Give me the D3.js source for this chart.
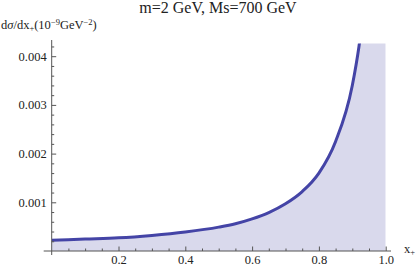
<!DOCTYPE html>
<html>
<head>
<meta charset="utf-8">
<script src="https://cdn.jsdelivr.net/npm/d3@7"></script>
<style>
  html, body { margin: 0; padding: 0; background: #fff; }
  svg { display: block; }
  svg text { font-family: "Liberation Serif", "DejaVu Serif", serif !important; fill: #222; }
</style>
</head>
<body>
<svg width="416" height="266"></svg>
<script>
// values
const xPlus   = [0, 0.1, 0.2, 0.3, 0.4, 0.5, 0.55, 0.6, 0.65, 0.7, 0.75, 0.8, 0.85, 0.9, 0.92, 0.95, 1.0];
const dSigma  = [0.00022, 0.000245, 0.00027, 0.00032, 0.00039, 0.00049, 0.00056, 0.00066, 0.00079, 0.00097, 0.00122, 0.0016, 0.00225, 0.0034, 0.0042, 0.006, 0.012];
const xTicks  = [0.2, 0.4, 0.6, 0.8, 1.0];
const yTicks  = [0.001, 0.002, 0.003, 0.004];
const yTop    = 0.00426;   // plot range cut-off

const svg = d3.select("svg");

const x = d3.scaleLinear().domain([0, 1]).range([51.7, 385.7]);
const y = d3.scaleLinear().domain([0, 0.001]).range([251, 202.3]);

const pts = xPlus.map((v, i) => [v, dSigma[i]]);

svg.append("clipPath").attr("id", "plotclip")
  .append("rect")
    .attr("x", x(0)).attr("y", y(yTop))
    .attr("width", x(1) - x(0)).attr("height", y(0) - y(yTop));

const g = svg.append("g").attr("clip-path", "url(#plotclip)");

// filling to the axis
g.append("path")
    .datum(pts)
    .attr("fill", "#d9d9ec")
    .attr("d", d3.area().x(d => x(d[0])).y0(y(0)).y1(d => y(d[1])).curve(d3.curveMonotoneX));

// curve
g.append("path")
    .datum(pts)
    .attr("fill", "none")
    .attr("stroke", "#4444a6")
    .attr("stroke-width", 3)
    .attr("d", d3.line().x(d => x(d[0])).y(d => y(d[1])).curve(d3.curveMonotoneX));

const axisColor = "#555";

// x axis
const xMinor = d3.range(0.05, 1.001, 0.05).filter(v => Math.abs(v * 5 - Math.round(v * 5)) > 1e-6);
svg.append("g")
    .attr("transform", `translate(0,${y(0)})`)
    .call(d3.axisBottom(x).tickValues(xMinor).tickSize(-2.5).tickFormat(""))
    .call(a => a.select(".domain").remove());
svg.append("g")
    .attr("transform", `translate(0,${y(0)})`)
    .call(d3.axisBottom(x).tickValues(xTicks).tickSize(-4.5).tickPadding(4).tickFormat(d3.format(".1f")))
    .call(a => a.select(".domain").remove())
    .call(a => a.attr("font-family", null).selectAll("text").attr("font-size", 12.5));

// y axis
const yMinor = d3.range(0.0002, 0.00431, 0.0002).filter(v => Math.abs(v * 1000 - Math.round(v * 1000)) > 1e-6);
svg.append("g")
    .attr("transform", `translate(${x(0)},0)`)
    .call(d3.axisLeft(y).tickValues(yMinor).tickSize(-2.5).tickFormat(""))
    .call(a => a.select(".domain").remove());
svg.append("g")
    .attr("transform", `translate(${x(0)},0)`)
    .call(d3.axisLeft(y).tickValues(yTicks).tickSize(-4.5).tickPadding(5).tickFormat(d3.format(".3f")))
    .call(a => a.select(".domain").remove())
    .call(a => a.attr("font-family", null).selectAll("text").attr("font-size", 12.5));

svg.selectAll(".tick line").attr("stroke", axisColor);

// axis lines with small overhang
svg.append("line")
    .attr("x1", x(0) - 8).attr("x2", 391)
    .attr("y1", y(0)).attr("y2", y(0))
    .attr("stroke", axisColor);
svg.append("line")
    .attr("x1", x(0)).attr("x2", x(0))
    .attr("y1", y(0) + 4).attr("y2", 40)
    .attr("stroke", axisColor);

// title
svg.append("text")
    .attr("x", 218).attr("y", 13)
    .attr("text-anchor", "middle")
    .attr("font-size", 16)
    .text("m=2 GeV, Ms=700 GeV");

// y label
const yl = svg.append("text")
    .attr("x", 1).attr("y", 29)
    .attr("font-size", 12.5);
yl.append("tspan").text("d");
yl.append("tspan").attr("font-style", "italic").text("σ");
yl.append("tspan").text("/dx");
yl.append("tspan").attr("font-size", 8.5).attr("dy", 2).text("+");
yl.append("tspan").attr("dy", -2).text("(10");
yl.append("tspan").attr("font-size", 8.5).attr("dy", -4.5).text("−9");
yl.append("tspan").attr("dy", 4.5).text("GeV");
yl.append("tspan").attr("font-size", 8.5).attr("dy", -4.5).text("−2");
yl.append("tspan").attr("dy", 4.5).text(")");

// x label
const xl = svg.append("text")
    .attr("x", 404).attr("y", 253)
    .attr("font-size", 12.5);
xl.append("tspan").text("x");
xl.append("tspan").attr("font-size", 8.5).attr("dy", 2).text("+");
</script>
</body>
</html>
